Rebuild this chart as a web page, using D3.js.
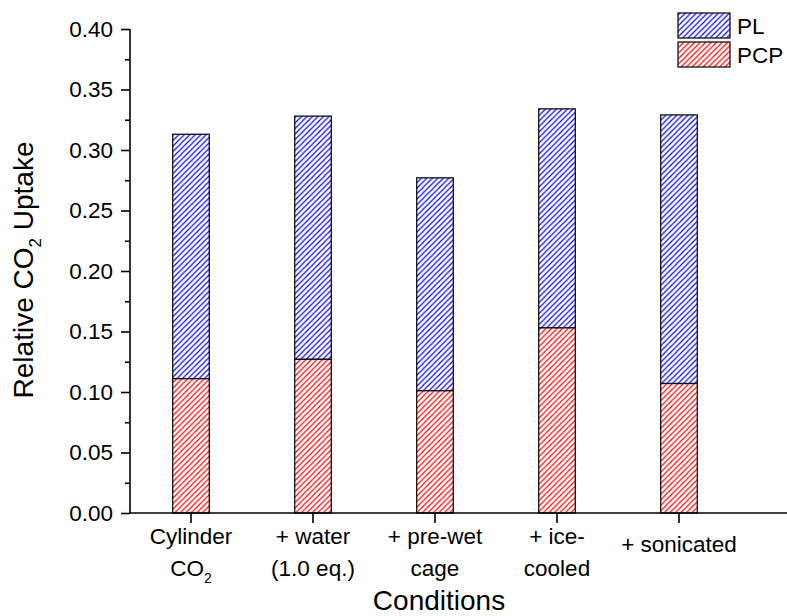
<!DOCTYPE html>
<html>
<head>
<meta charset="utf-8">
<script src="https://cdn.jsdelivr.net/npm/d3@7"></script>
<style>
  body { margin: 0; background: #fff; }
  text { font-family: "Liberation Sans", Arial, sans-serif; fill: #000; }
</style>
</head>
<body>
<div id="chart"></div>
<script>
// data
var categories = ["cylinder", "water", "prewet", "ice", "sonicated"];
var tickLines = [
    [["Cylinder"], ["CO", "2"]],
    [["+ water"], ["(1.0 eq.)"]],
    [["+ pre-wet"], ["cage"]],
    [["+ ice-"], ["cooled"]],
    [["+ sonicated"]]
];
var pcpValues = [0.111, 0.127, 0.101, 0.153, 0.107];
var totalValues = [0.313, 0.328, 0.277, 0.334, 0.329];
var yTicks = [0, 0.05, 0.10, 0.15, 0.20, 0.25, 0.30, 0.35, 0.40];
var yMinorTicks = [0.025, 0.075, 0.125, 0.175, 0.225, 0.275, 0.325, 0.375];

var svgWidth = 787;
var svgHeight = 616;

var svg = d3.select("#chart")
    .append("svg")
    .attr("width", svgWidth)
    .attr("height", svgHeight);

// hatch patterns
var defs = svg.append("defs");
function hatch(id, color) {
    var s = 5.5;
    var p = defs.append("pattern")
        .attr("id", id)
        .attr("patternUnits", "userSpaceOnUse")
        .attr("width", s)
        .attr("height", s);
    p.append("rect").attr("width", s).attr("height", s).attr("fill", "#fff");
    p.append("path")
        .attr("d", "M0," + s + " L" + s + ",0 M" + (-s / 4) + "," + (s / 4) + " L" + (s / 4) + "," + (-s / 4) +
            " M" + (s * 0.75) + "," + (s * 1.25) + " L" + (s * 1.25) + "," + (s * 0.75))
        .attr("stroke", color)
        .attr("stroke-width", 1.15);
}
hatch("hatchBlue", "#0000ff");
hatch("hatchRed", "#ff0000");

var x = d3.scaleBand()
    .domain(categories)
    .range([130, 740]);

var y = d3.scaleLinear()
    .domain([0, 0.40])
    .range([513, 29]);

var barW = x.bandwidth() * 0.3;

// bars
var bars = svg.append("g");
bars.selectAll("rect.pl")
    .data(categories)
    .enter().append("rect")
    .attr("class", "pl")
    .attr("x", (d) => x(d) + x.bandwidth() / 2 - barW / 2)
    .attr("width", barW)
    .attr("y", (d, i) => y(totalValues[i]))
    .attr("height", (d, i) => y(pcpValues[i]) - y(totalValues[i]))
    .attr("fill", "url(#hatchBlue)")
    .attr("stroke", "#111")
    .attr("stroke-width", 1.3);

bars.selectAll("rect.pcp")
    .data(categories)
    .enter().append("rect")
    .attr("class", "pcp")
    .attr("x", (d) => x(d) + x.bandwidth() / 2 - barW / 2)
    .attr("width", barW)
    .attr("y", (d, i) => y(pcpValues[i]))
    .attr("height", (d, i) => y(0) - y(pcpValues[i]))
    .attr("fill", "url(#hatchRed)")
    .attr("stroke", "#111")
    .attr("stroke-width", 1.3);

// y axis
var yAxis = svg.append("g")
    .attr("transform", "translate(130,0)")
    .call(d3.axisLeft(y).tickValues(yTicks).tickSize(9).tickPadding(8).tickFormat(d3.format(".2f")));
yAxis.select(".domain").attr("stroke-width", 1.6).attr("d", "M0," + y(0.40) + "V" + y(0));
yAxis.selectAll(".tick line").attr("stroke-width", 1.6);
yAxis.selectAll("text").style("font-size", "22.5px").style("font-family", "Liberation Sans, Arial, sans-serif");

var yMinor = svg.append("g")
    .attr("transform", "translate(130,0)")
    .call(d3.axisLeft(y).tickValues(yMinorTicks).tickSize(5).tickFormat(""));
yMinor.select(".domain").remove();
yMinor.selectAll(".tick line").attr("stroke-width", 1.6);

// x axis
var xAxis = svg.append("g")
    .attr("transform", "translate(0," + y(0) + ")")
    .call(d3.axisBottom(x).tickSize(10).tickFormat(""));
xAxis.select(".domain").attr("stroke-width", 1.6).attr("d", "M130,0H787");
xAxis.selectAll(".tick line").attr("stroke-width", 1.6);

// multi-line tick labels
var labels = svg.append("g");
categories.forEach(function(c, i) {
    var lines = tickLines[i];
    var cx = x(c) + x.bandwidth() / 2;
    var base = lines.length === 1 ? [552] : [544, 576];
    lines.forEach(function(parts, j) {
        var t = labels.append("text")
            .attr("x", cx)
            .attr("y", base[j])
            .attr("text-anchor", "middle")
            .style("font-size", "22.5px");
        t.append("tspan").text(parts[0]);
        if (parts.length > 1) {
            t.append("tspan")
                .attr("dy", 7)
                .style("font-size", "14px")
                .text(parts[1]);
        }
    });
});

// axis titles
svg.append("text")
    .attr("x", 439)
    .attr("y", 610)
    .attr("text-anchor", "middle")
    .style("font-size", "28px")
    .text("Conditions");

var yTitle = svg.append("text")
    .attr("transform", "translate(33,270) rotate(-90)")
    .attr("text-anchor", "middle")
    .style("font-size", "28px");
yTitle.append("tspan").text("Relative CO");
yTitle.append("tspan").attr("dy", 8).style("font-size", "17px").text("2");
yTitle.append("tspan").attr("dy", -8).text(" Uptake");

// legend
var legendItems = ["PL", "PCP"];
var legendFills = ["url(#hatchBlue)", "url(#hatchRed)"];
var legend = svg.append("g");
legendItems.forEach(function(name, i) {
    legend.append("rect")
        .attr("x", 678)
        .attr("y", 13 + i * 29)
        .attr("width", 52)
        .attr("height", 25)
        .attr("fill", legendFills[i])
        .attr("stroke", "#111")
        .attr("stroke-width", 1.3);
    legend.append("text")
        .attr("x", 737)
        .attr("y", 34 + i * 29)
        .style("font-size", "22.5px")
        .text(name);
});
</script>
</body>
</html>
